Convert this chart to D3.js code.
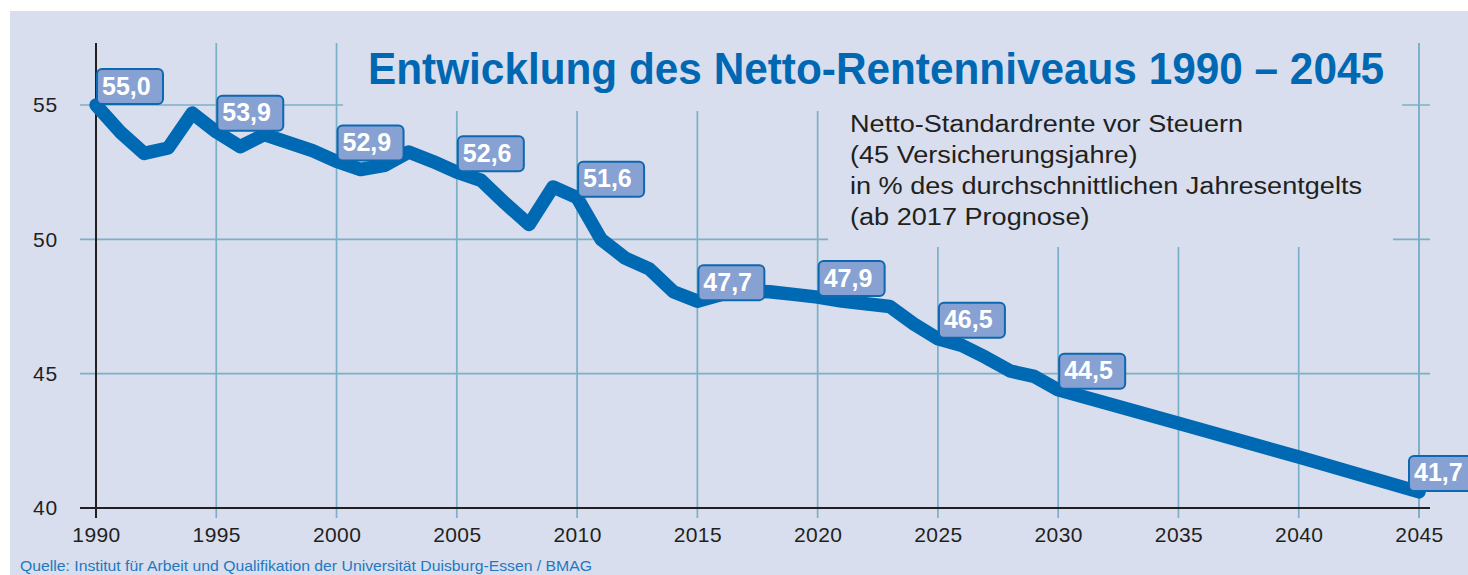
<!DOCTYPE html>
<html>
<head>
<meta charset="utf-8">
<script src="https://cdn.jsdelivr.net/npm/d3@7/dist/d3.min.js"></script>
<style>
  html, body { margin: 0; padding: 0; background: #ffffff; }
  svg { display: block; }
</style>
</head>
<body>
<svg id="chart" width="1468" height="575"></svg>
<script>
// ---- data ----
const years = [1990,1991,1992,1993,1994,1995,1996,1997,1998,1999,
               2000,2001,2002,2003,2004,2005,2006,2007,2008,2009,
               2010,2011,2012,2013,2014,2015,2016,2017,2018,2019,
               2020,2021,2022,2023,2024,2025,2026,2027,2028,2029,
               2030,2035,2040,2045];
const values = [55.0,54.0,53.2,53.4,54.7,54.0,53.45,53.9,53.6,53.3,
                52.9,52.6,52.75,53.25,52.9,52.5,52.2,51.35,50.55,51.95,
                51.55,50.0,49.3,48.9,48.05,47.7,47.95,48.07,48.05,47.95,
                47.85,47.7,47.6,47.5,46.85,46.3,46.05,45.6,45.1,44.9,
                44.4,43.15,41.9,40.6];
const labelYears = [1990,1995,2000,2005,2010,2015,2020,2025,2030,2045];
const labelTexts = ["55,0","53,9","52,9","52,6","51,6","47,7","47,9","46,5","44,5","41,7"];
const xTicks = [1990,1995,2000,2005,2010,2015,2020,2025,2030,2035,2040,2045];
const yTicks = [40,45,50,55];
const titleText = "Entwicklung des Netto-Rentenniveaus 1990 – 2045";
const noteLines = ["Netto-Standardrente vor Steuern",
                   "(45 Versicherungsjahre)",
                   "in % des durchschnittlichen Jahresentgelts",
                   "(ab 2017 Prognose)"];
const sourceText = "Quelle: Institut für Arbeit und Qualifikation der Universität Duisburg-Essen / BMAG";

// ---- style ----
const W = 1468, H = 575;
const BG = "#d8deed", GRID = "#7cb0c8", LINE = "#0069b3", AXIS = "#231f20";
const LBL_FILL = "#87a2d2", LBL_STROKE = "#0c68b1";

const svg = d3.select("#chart");
svg.append("rect").attr("x", 10).attr("y", 11).attr("width", W - 10).attr("height", H - 11).attr("fill", BG);

const x = d3.scaleLinear().domain([1990, 2045]).range([96, 1419]);
const y = d3.scaleLinear().domain([40, 55]).range([508, 105]);

const gridTop = 43, gridBottom = 518, hLeft = 80, hRight = 1430;

// vertical grid
svg.append("g").selectAll("line").data(xTicks.slice(1)).join("line")
  .attr("x1", d => x(d)).attr("x2", d => x(d))
  .attr("y1", gridTop).attr("y2", gridBottom)
  .attr("stroke", GRID).attr("stroke-width", 1.7);
// horizontal grid
svg.append("g").selectAll("line").data(yTicks.slice(1)).join("line")
  .attr("x1", hLeft).attr("x2", hRight)
  .attr("y1", d => y(d)).attr("y2", d => y(d))
  .attr("stroke", GRID).attr("stroke-width", 1.7);

// masks behind title & note
svg.append("rect").attr("x", 343).attr("y", 30).attr("width", 1402 - 343).attr("height", 111 - 30).attr("fill", BG);
svg.append("rect").attr("x", 828).attr("y", 111).attr("width", 1393 - 828).attr("height", 247 - 111).attr("fill", BG);
// the 2045 gridline runs through
svg.append("line").attr("x1", x(2045)).attr("x2", x(2045)).attr("y1", gridTop).attr("y2", gridBottom)
  .attr("stroke", GRID).attr("stroke-width", 1.7);

// axes (black)
svg.append("line").attr("x1", hLeft).attr("x2", hRight).attr("y1", y(40)).attr("y2", y(40))
  .attr("stroke", AXIS).attr("stroke-width", 2);
svg.append("line").attr("x1", x(1990)).attr("x2", x(1990)).attr("y1", gridTop).attr("y2", gridBottom)
  .attr("stroke", AXIS).attr("stroke-width", 2);

const xAxis = svg.append("g").attr("transform", `translate(0,${y(40)})`)
  .call(d3.axisBottom(x).tickValues(xTicks).tickSize(0).tickPadding(19).tickFormat(d3.format("d")));
xAxis.select(".domain").remove();
xAxis.selectAll("text").attr("font-family", "Liberation Sans, Arial, sans-serif")
  .attr("font-size", 21).attr("fill", AXIS).style("letter-spacing", "0.4px");

const yAxis = svg.append("g").attr("transform", `translate(${x(1990)},0)`)
  .call(d3.axisLeft(y).tickValues(yTicks).tickSize(0).tickPadding(38).tickFormat(d3.format("d")));
yAxis.select(".domain").remove();
yAxis.selectAll("text").attr("font-family", "Liberation Sans, Arial, sans-serif")
  .attr("font-size", 21).attr("fill", AXIS).style("letter-spacing", "0.8px");

// line
const pts = years.map((yr, i) => [yr, values[i]]);
svg.append("path").datum(pts)
  .attr("d", d3.line().x(d => x(d[0])).y(d => y(d[1])))
  .attr("fill", "none").attr("stroke", LINE).attr("stroke-width", 13.5)
  .attr("stroke-linejoin", "round").attr("stroke-linecap", "round");

// value labels
const BOX_W = 66, BOX_H = 35;
const lblData = labelYears.map((yr, i) => ({ yr, t: labelTexts[i], v: values[years.indexOf(yr)] }));
const lg = svg.append("g").selectAll("g").data(lblData).join("g")
  .attr("transform", d => `translate(${Math.min(x(d.yr) + 1, W - 59)},${y(d.v) - 36})`);
lg.append("rect").attr("width", BOX_W).attr("height", BOX_H).attr("rx", 5)
  .attr("fill", LBL_FILL).attr("stroke", LBL_STROKE).attr("stroke-width", 2);
lg.append("text").attr("x", 5).attr("y", 25.5)
  .attr("font-family", "Liberation Sans, Arial, sans-serif").attr("font-weight", "bold")
  .attr("font-size", 25).attr("fill", "#ffffff")
  .text(d => d.t);

// title (bold sans, horizontally condensed to the reference width)
const title = svg.append("text").attr("x", 368).attr("y", 84)
  .attr("font-family", "Liberation Sans, Arial, sans-serif")
  .attr("font-weight", "bold").attr("font-size", 45).attr("fill", "#0068b3")
  .text(titleText);
title.attr("textLength", 1016).attr("lengthAdjust", "spacingAndGlyphs");

// note
const note = svg.append("g");
noteLines.forEach((t, i) => {
  note.append("text").attr("x", 850).attr("y", 132 + i * 31)
    .attr("font-family", "Liberation Sans, Arial, sans-serif").attr("font-size", 23)
    .attr("fill", AXIS).text(t);
});
// fit widths (longest line ~512px)
const nodes = note.selectAll("text").nodes();
const w3 = nodes[2].getComputedTextLength();
const k = 512 / w3;
nodes.forEach(n => {
  const w = n.getComputedTextLength();
  d3.select(n).attr("textLength", w * k).attr("lengthAdjust", "spacingAndGlyphs");
});

// source
const src = svg.append("text").attr("x", 20).attr("y", 571)
  .attr("font-family", "Liberation Sans, Arial, sans-serif").attr("font-size", 15)
  .attr("fill", "#1f78bf").text(sourceText);
src.attr("textLength", 572).attr("lengthAdjust", "spacingAndGlyphs");
</script>
</body>
</html>
